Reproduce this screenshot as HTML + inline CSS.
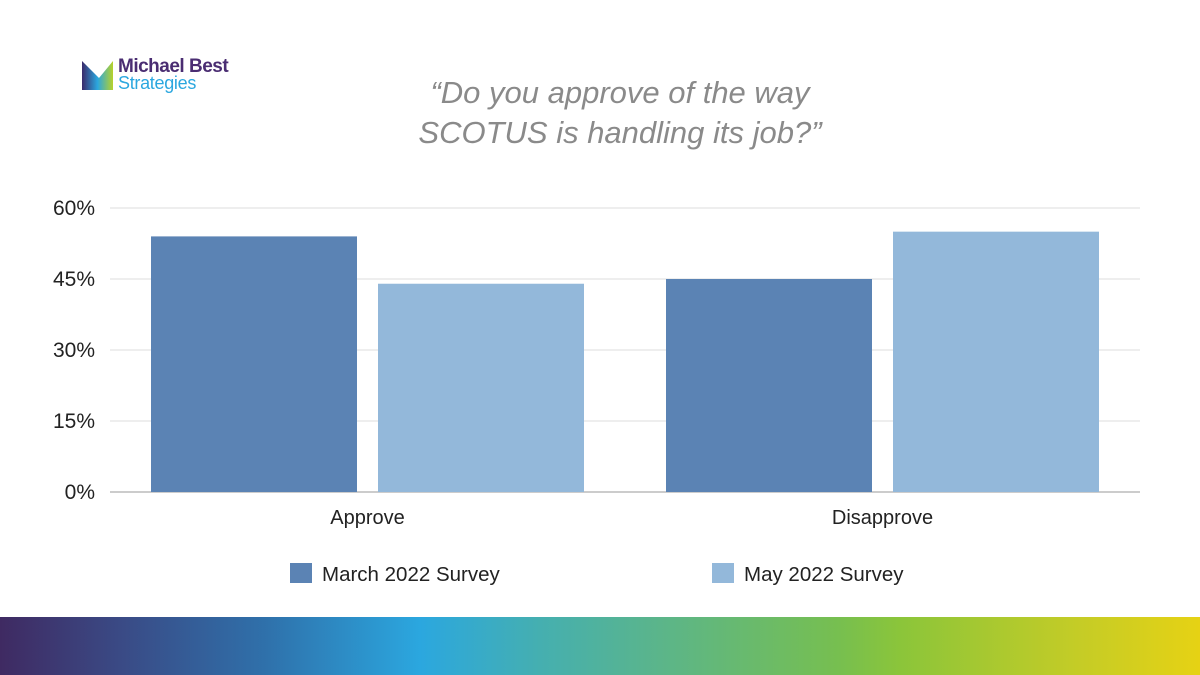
<!DOCTYPE html>
<html><head><meta charset="utf-8"><style>
body{margin:0;width:1200px;height:675px;background:#fff;position:relative;overflow:hidden;font-family:"Liberation Sans",sans-serif}
.grad{position:absolute;left:0;top:617px;width:1200px;height:58px;background:linear-gradient(90deg,#3f2a62 0%,#3a4a85 10%,#2f70aa 22%,#2ba7df 35%,#45afb0 45%,#5bb58a 55%,#77bf4f 70%,#8bc53a 75%,#c5cc26 90%,#e6d214 100%)}
</style></head><body>
<div style="position:absolute;left:82px;top:58px;">
<svg width="34" height="32" viewBox="0 0 34 32"><defs><linearGradient id="lg" x1="0" x2="1"><stop offset="0" stop-color="#3b2a6a"/><stop offset="0.5" stop-color="#2ba7df"/><stop offset="1" stop-color="#b6d22a"/></linearGradient></defs><polygon points="0,3 17,20 31,3 31,32 0,32" fill="url(#lg)"/></svg>
<div style="position:absolute;left:36px;top:-2px;font-size:19px;color:#4a2d72;font-weight:bold;white-space:nowrap;letter-spacing:-0.5px">Michael Best</div>
<div style="position:absolute;left:36px;top:15px;font-size:18px;color:#2ba7df;white-space:nowrap;letter-spacing:-0.3px">Strategies</div>
</div>
<div style="position:absolute;left:370px;top:73px;width:500px;text-align:center;font-size:31px;font-style:italic;color:#8a8a8a;line-height:40px">“Do you approve of the way<br>SCOTUS is handling its job?”</div>
<svg id="c" width="1200" height="675" style="position:absolute;left:0;top:0"></svg>
<div class="grad"></div>
<script>
const categories=["Approve","Disapprove"];
const seriesNames=["March 2022 Survey","May 2022 Survey"];
const march=[54,45];
const may=[44,55];
const ticks=[0,15,30,45,60];
const colors=["#5b83b4","#93b8da"];
const svg=document.getElementById('c');const NS="http://www.w3.org/2000/svg";
const x0=110,x1=1140,yB=492,yT=208,max=60;
const y=v=>yB-(v/max)*(yB-yT);
function mk(t,a){const e=document.createElementNS(NS,t);for(const k in a)e.setAttribute(k,a[k]);svg.appendChild(e);return e;}
ticks.forEach(t=>{const l=mk('line',{x1:x0,x2:x1,y1:y(t),y2:y(t),stroke:t===0?'#999':'#ddd','stroke-width':1});


const tx=mk('text',{x:95,y:y(t)+7,'text-anchor':'end','font-size':21,fill:'#222','font-family':'Liberation Sans'});tx.textContent=t+'%';

});
const gw=(x1-x0)/categories.length,bw=206,gap=21;
[march,may].forEach((s,si)=>s.forEach((v,i)=>{const bx=x0+i*gw+gw/2-bw-gap/2+si*(bw+gap);
const r=mk('rect',{x:bx,y:y(v),width:bw,height:yB-y(v),fill:colors[si]});

}));
categories.forEach((c,i)=>{const t=mk('text',{x:x0+i*gw+gw/2,y:524,'text-anchor':'middle','font-size':20,fill:'#222','font-family':'Liberation Sans'});t.textContent=c;

});
seriesNames.forEach((n,i)=>{const lx=290+i*422;
const r=mk('rect',{x:lx,y:563,width:22,height:20,fill:colors[i]});


const t=mk('text',{x:lx+32,y:581,'font-size':20.5,fill:'#222','font-family':'Liberation Sans'});t.textContent=n;

});
</script>
</body></html>
